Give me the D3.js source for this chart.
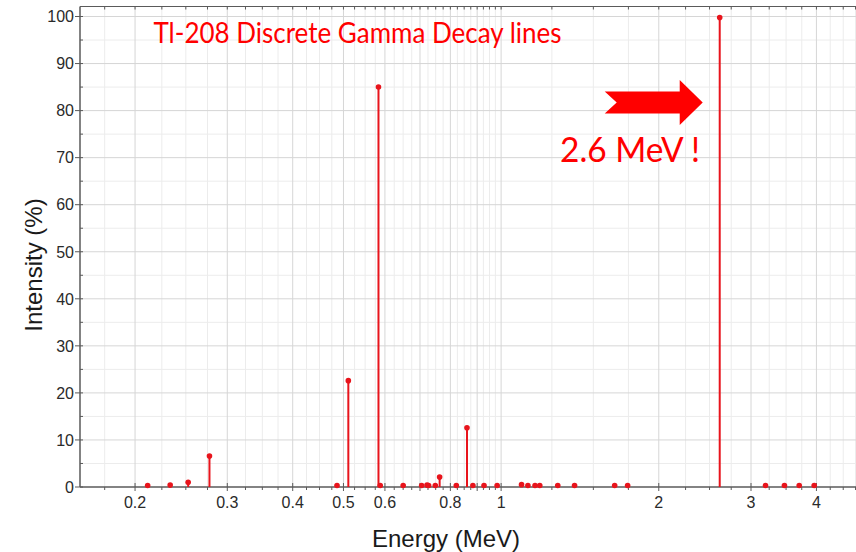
<!DOCTYPE html>
<html>
<head>
<meta charset="utf-8">
<script src="https://cdn.jsdelivr.net/npm/d3@7.9.0/dist/d3.min.js"></script>
<style>
  html, body { margin: 0; padding: 0; background: #fff; }
  svg { display: block; }
  .tick-label { font-family: "Liberation Sans", Arial, sans-serif; font-size: 16px; fill: #2a2a2a; }
  .axis-title { font-family: "Liberation Sans", Arial, sans-serif; font-size: 24px; fill: #1a1a1a; }
  .note { font-family: Lato, "Open Sans", sans-serif; fill: #ff0000; }
</style>
</head>
<body>
<svg id="chart" width="856" height="552"></svg>
<script>
// Tl-208 gamma lines: energy (MeV) and intensity (%)
const energies = [0.2114, 0.2334, 0.2526, 0.2774, 0.4860, 0.5108, 0.5832, 0.5877,
  0.6501, 0.7052, 0.7220, 0.7270, 0.7487, 0.7631, 0.8212, 0.8606, 0.8833, 0.9276,
  0.9827, 1.0939, 1.1250, 1.1608, 1.1852, 1.2828, 1.3811, 1.6475, 1.7440, 2.6145,
  3.1977, 3.4751, 3.7084, 3.9610];
const intensities = [0.3, 0.4, 1.0, 6.6, 0.2, 22.6, 85.0, 0.2,
  0.2, 0.2, 0.4, 0.3, 0.3, 2.1, 0.2, 12.6, 0.1, 0.2,
  0.3, 0.5, 0.3, 0.3, 0.3, 0.2, 0.1, 0.1, 0.1, 99.8,
  0.1, 0.1, 0.1, 0.1];

const xTickLabels = [0.2, 0.3, 0.4, 0.5, 0.6, 0.8, 1, 2, 3, 4];
const xMajorTicks = [0.2, 0.3, 0.4, 0.5, 0.6, 0.7, 0.8, 0.9, 1, 2, 3, 4];
const yTickLabels = [0, 10, 20, 30, 40, 50, 60, 70, 80, 90, 100];
const yMinorTicks = [5, 15, 25, 35, 45, 55, 65, 75, 85, 95];

const titleText = "Tl-208 Discrete Gamma Decay lines";
const noteText = "2.6 MeV !";

const svg = d3.select('#chart');
const pLeft = 80, pRight = 860, pTop = 6.5, pBottom = 487;

const x = d3.scaleLog().domain([0.157, 4.76]).range([pLeft, 856]);
const y = d3.scaleLinear().domain([0, 100]).range([pBottom, 16.5]);

// minor vertical grid: every 0.025 below 1 MeV, every 0.25 above
let xMinor = [];
for (let v = 0.175; v < 1; v += 0.025) xMinor.push(+v.toFixed(3));
for (let v = 1.25; v < 4.8; v += 0.25) xMinor.push(+v.toFixed(2));
xMinor = xMinor.filter(v => !xMajorTicks.some(m => Math.abs(m - v) < 1e-6));

const grid = svg.append('g');
grid.selectAll('.gx-min').data(xMinor).join('line')
  .attr('x1', d => x(d)).attr('x2', d => x(d))
  .attr('y1', pTop).attr('y2', pBottom)
  .attr('stroke', '#ececec').attr('stroke-width', 1);
grid.selectAll('.gy-min').data(yMinorTicks).join('line')
  .attr('x1', pLeft).attr('x2', pRight)
  .attr('y1', d => y(d)).attr('y2', d => y(d))
  .attr('stroke', '#ececec').attr('stroke-width', 1);
grid.selectAll('.gx').data(xMajorTicks).join('line')
  .attr('x1', d => x(d)).attr('x2', d => x(d))
  .attr('y1', pTop).attr('y2', pBottom)
  .attr('stroke', '#d6d6d6').attr('stroke-width', 1);
grid.selectAll('.gy').data(yTickLabels.slice(1)).join('line')
  .attr('x1', pLeft).attr('x2', pRight)
  .attr('y1', d => y(d)).attr('y2', d => y(d))
  .attr('stroke', '#d6d6d6').attr('stroke-width', 1);

// frame
const axisColor = '#5a5a5a';
svg.append('line').attr('x1', pLeft).attr('x2', pRight).attr('y1', pTop).attr('y2', pTop)
  .attr('stroke', axisColor).attr('stroke-width', 1.2);
svg.append('line').attr('x1', pLeft).attr('x2', pRight).attr('y1', pBottom).attr('y2', pBottom)
  .attr('stroke', axisColor).attr('stroke-width', 1.5);
svg.append('line').attr('x1', pLeft).attr('x2', pLeft).attr('y1', pTop).attr('y2', pBottom)
  .attr('stroke', axisColor).attr('stroke-width', 1.5);

// ticks
const ticks = svg.append('g').attr('stroke', axisColor).attr('stroke-width', 1);
ticks.selectAll('.tb').data(xMajorTicks).join('line')
  .attr('x1', d => x(d)).attr('x2', d => x(d)).attr('y1', pBottom - 4).attr('y2', pBottom + 4);
ticks.selectAll('.tbm').data(xMinor).join('line')
  .attr('x1', d => x(d)).attr('x2', d => x(d)).attr('y1', pBottom).attr('y2', pBottom + 3);
ticks.selectAll('.tt').data(xMajorTicks.concat(xMinor)).join('line')
  .attr('x1', d => x(d)).attr('x2', d => x(d)).attr('y1', pTop).attr('y2', pTop + 3);
ticks.selectAll('.tl').data(yTickLabels).join('line')
  .attr('x1', pLeft - 5).attr('x2', pLeft + 3).attr('y1', d => y(d)).attr('y2', d => y(d));
ticks.selectAll('.tlm').data(yMinorTicks).join('line')
  .attr('x1', pLeft).attr('x2', pLeft + 3).attr('y1', d => y(d)).attr('y2', d => y(d));

// tick labels
svg.selectAll('.xl').data(xTickLabels).join('text')
  .attr('class', 'tick-label')
  .attr('x', d => x(d)).attr('y', 508)
  .attr('text-anchor', 'middle')
  .text(d => d);
svg.selectAll('.yl').data(yTickLabels).join('text')
  .attr('class', 'tick-label')
  .attr('x', 74).attr('y', d => y(d)).attr('dy', '0.36em')
  .attr('text-anchor', 'end')
  .text(d => d);

// axis titles
svg.append('text').attr('class', 'axis-title')
  .attr('x', 446).attr('y', 546.5).attr('text-anchor', 'middle')
  .text('Energy (MeV)');
svg.append('text').attr('class', 'axis-title')
  .attr('transform', 'translate(41.5,265) rotate(-90)')
  .attr('text-anchor', 'middle')
  .text('Intensity (%)');

// stems
const lines = energies.map((e, i) => ({ e, v: intensities[i] }));
const red = '#e8141c';
svg.append('g').selectAll('line').data(lines).join('line')
  .attr('x1', d => x(d.e)).attr('x2', d => x(d.e))
  .attr('y1', pBottom).attr('y2', d => y(d.v))
  .attr('stroke', red).attr('stroke-width', 2);
svg.append('g').selectAll('circle').data(lines).join('circle')
  .attr('cx', d => x(d.e)).attr('cy', d => Math.min(y(d.v), pBottom - 1.5))
  .attr('r', 2.8)
  .attr('fill', red);

// annotations
svg.append('text').attr('class', 'note')
  .attr('x', 153.5).attr('y', 43.3)
  .attr('font-size', 28)
  .attr('textLength', 408).attr('lengthAdjust', 'spacingAndGlyphs')
  .text(titleText);
svg.append('text').attr('class', 'note')
  .attr('x', 560).attr('y', 161.7)
  .attr('font-size', 35)
  .attr('textLength', 140).attr('lengthAdjust', 'spacingAndGlyphs')
  .text(noteText);

const tipX = x(2.6145) - 17, midY = 102.5;
const arrow = [
  [tipX - 98, midY - 11], [tipX - 23, midY - 11], [tipX - 23, midY - 22.5],
  [tipX, midY], [tipX - 23, midY + 22.5], [tipX - 23, midY + 11],
  [tipX - 98, midY + 11], [tipX - 86, midY]
];
svg.append('polygon')
  .attr('points', arrow.map(p => p.join(',')).join(' '))
  .attr('fill', '#ff0000');
</script>
</body>
</html>
